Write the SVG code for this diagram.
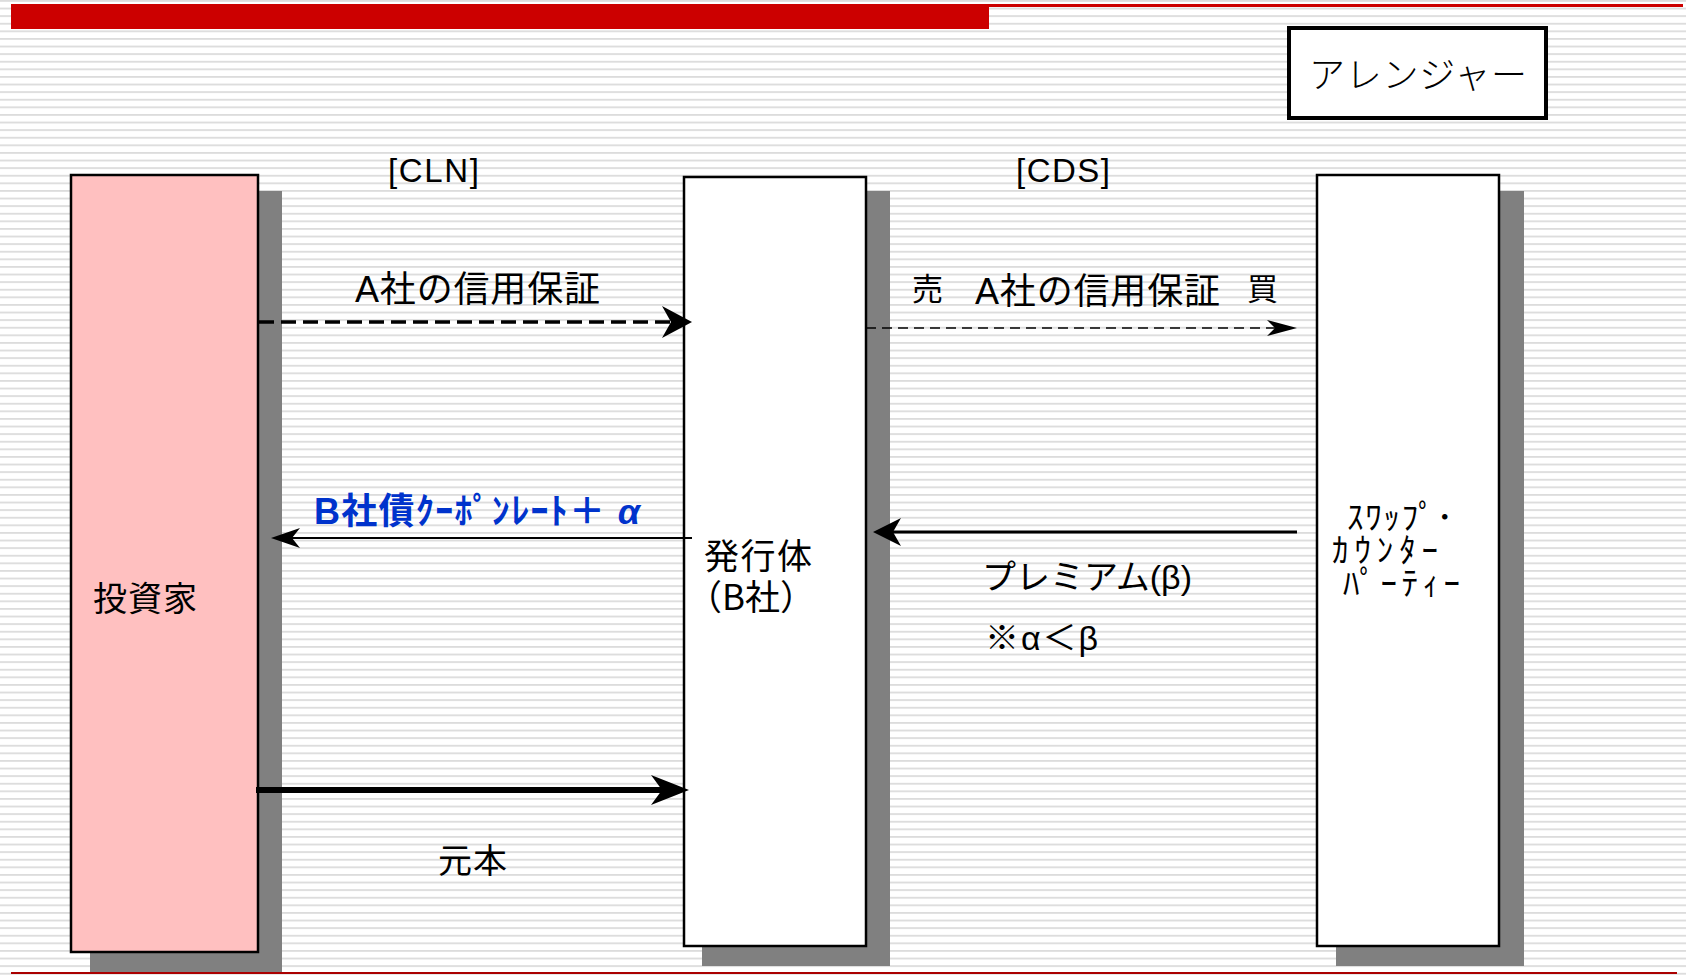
<svg xmlns="http://www.w3.org/2000/svg" width="1686" height="977" viewBox="0 0 1686 977">
<style>
.t{font-family:"Liberation Sans","Noto Sans CJK JP",sans-serif;fill:#000;}
.j{font-family:"Noto Sans CJK JP",sans-serif;fill:#000;}
.box{stroke:#000;stroke-width:2.5;}
.shadow{fill:#808080;}
.blue{font-family:"Liberation Sans","Noto Sans CJK JP",sans-serif;fill:#0033cc;font-weight:bold;}
</style>
<defs>
<pattern id="stripes" patternUnits="userSpaceOnUse" width="20" height="7.6">
<rect width="20" height="7.6" fill="#ffffff"/>
<rect y="0" width="20" height="1.8" fill="#dcdcdc"/>
</pattern>
<marker id="hCLN" markerUnits="userSpaceOnUse" markerWidth="40" markerHeight="40" viewBox="0 -20 40 40" refX="12" refY="0" orient="auto"><path d="M30 0 L0 -16 L9 0 L0 16 Z" fill="#000"/></marker>
<marker id="hCDS" markerUnits="userSpaceOnUse" markerWidth="40" markerHeight="40" viewBox="0 -20 40 40" refX="10" refY="0" orient="auto"><path d="M30 0 L0 -8 L8 0 L0 8 Z" fill="#000"/></marker>
<marker id="hBlue" markerUnits="userSpaceOnUse" markerWidth="40" markerHeight="40" viewBox="0 -20 40 40" refX="10" refY="0" orient="auto"><path d="M29 0 L0 -10 L8 0 L0 10 Z" fill="#000"/></marker>
<marker id="hPrem" markerUnits="userSpaceOnUse" markerWidth="40" markerHeight="40" viewBox="0 -20 40 40" refX="11" refY="0" orient="auto"><path d="M28 0 L0 -14 L8 0 L0 14 Z" fill="#000"/></marker>
<marker id="hPrin" markerUnits="userSpaceOnUse" markerWidth="50" markerHeight="40" viewBox="0 -20 50 40" refX="14" refY="0" orient="auto"><path d="M38 0 L0 -15 L11 0 L0 15 Z" fill="#000"/></marker>
</defs>
<rect width="1686" height="977" fill="url(#stripes)"/>
<g id="header">
<rect x="11" y="4" width="978" height="25" fill="#cc0000"/>
<rect x="989" y="4" width="694" height="3" fill="#cc0000"/>
<rect x="11" y="972" width="1666" height="2" fill="#aa0000"/>
</g>
<g id="arranger">
<rect x="1289" y="28" width="257" height="90" fill="#fff" stroke="#000" stroke-width="4"/>
<text class="j" x="1309" y="88" font-size="36" font-weight="300" textLength="218">アレンジャー</text>
</g>
<g id="investor">
<rect class="shadow" x="90" y="191" width="192" height="781"/>
<rect class="box" x="71" y="175" width="187" height="777" fill="#ffc0c0"/>
<text class="j" x="93" y="611" font-size="34" textLength="104">投資家</text>
</g>
<g id="issuer">
<rect class="shadow" x="702" y="191" width="188" height="775"/>
<rect class="box" x="684" y="177" width="182" height="769" fill="#fff"/>
<text class="j" font-size="35"><tspan x="704" y="569" textLength="108">発行体</tspan><tspan x="687" y="610">（B社）</tspan></text>
</g>
<g id="counterparty">
<rect class="shadow" x="1336" y="191" width="188" height="775"/>
<rect class="box" x="1317" y="175" width="182" height="771" fill="#fff"/>
<text class="j" font-size="33"><tspan x="1347" y="529" textLength="106">ｽﾜｯﾌﾟ･</tspan><tspan x="1332" y="562" textLength="106">ｶｳﾝﾀｰ</tspan><tspan x="1343" y="595" textLength="117">ﾊﾟｰﾃｨｰ</tspan></text>
</g>
<g id="labels">
<text class="t" x="388" y="182" font-size="33" textLength="91">[CLN]</text>
<text class="t" x="1016" y="182" font-size="33" textLength="94">[CDS]</text>
<text class="t" x="355" y="302" font-size="36" textLength="245">A社の信用保証</text>
<text class="j" x="912" y="300" font-size="31">売</text>
<text class="t" x="975" y="304" font-size="36" textLength="245">A社の信用保証</text>
<text class="j" x="1247" y="300" font-size="31">買</text>
<text class="blue" x="314" y="524" font-size="36" textLength="326">B社債ｸｰﾎﾟﾝﾚｰﾄ＋ <tspan font-style="italic">α</tspan></text>
<text class="t" x="982" y="589" font-size="34" textLength="210">プレミアム(β)</text>
<text class="t" x="985" y="650" font-size="34" textLength="113">※α＜β</text>
<text class="j" x="438" y="873" font-size="34" textLength="69">元本</text>
</g>
<g id="connectors" fill="none" stroke="#000">
<path d="M259 322 H674" stroke-width="3.5" stroke-dasharray="15 7" marker-end="url(#hCLN)"/>
<path d="M866 328 H1277" stroke-width="1.6" stroke-dasharray="10 6" marker-end="url(#hCDS)"/>
<path d="M692 538 H290" stroke-width="2" marker-end="url(#hBlue)"/>
<path d="M1297 532 H890" stroke-width="3" marker-end="url(#hPrem)"/>
<path d="M256 790 H665" stroke-width="6" marker-end="url(#hPrin)"/>
</g>
</svg>
